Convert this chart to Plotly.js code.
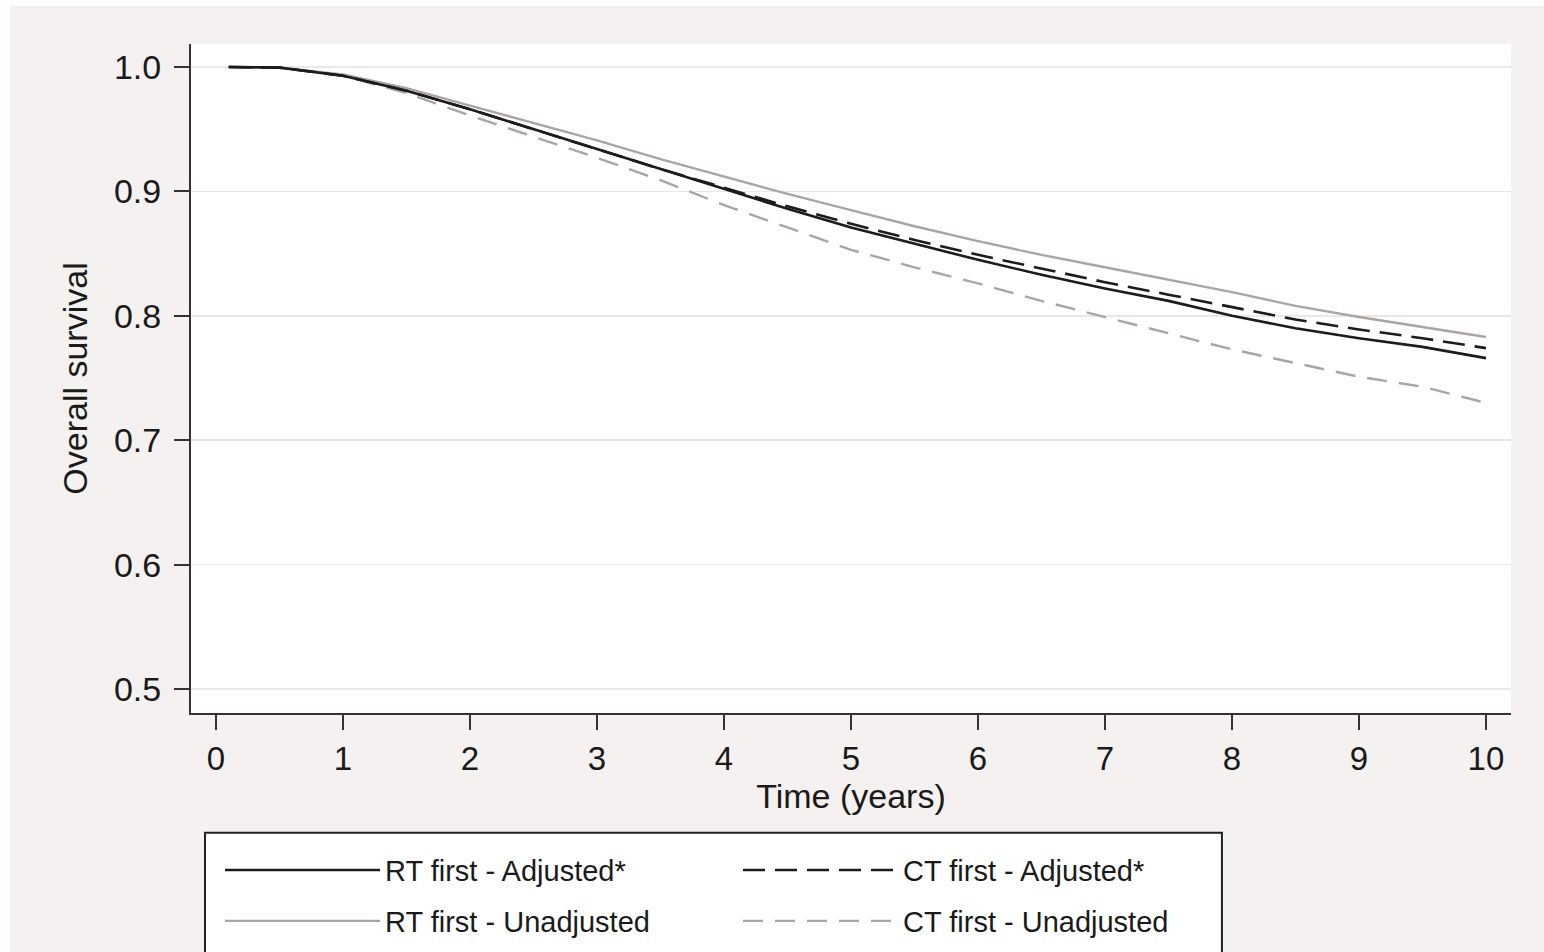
<!DOCTYPE html>
<html>
<head>
<meta charset="utf-8">
<script src="https://cdn.plot.ly/plotly-3.0.1.min.js"></script>
<style>
  html, body { margin: 0; padding: 0; background: #ffffff; }
  #chart { position: absolute; left: 10px; top: 6px; width: 1534px; height: 946px; }
</style>
</head>
<body>
<div id="chart"></div>
<script>
// Time in years
const timeYears = [0.1, 0.5, 1, 1.5, 2, 2.5, 3, 3.5, 4, 4.5, 5, 5.5, 6, 6.5, 7, 7.5, 8, 8.5, 9, 9.5, 10];

// Overall survival estimates
const rtAdjusted   = [1.0, 0.9995, 0.993, 0.981, 0.966, 0.950, 0.934, 0.918, 0.902, 0.886, 0.871, 0.858, 0.845, 0.833, 0.822, 0.812, 0.800, 0.790, 0.782, 0.775, 0.766];
const ctAdjusted   = [1.0, 0.9995, 0.993, 0.981, 0.966, 0.950, 0.934, 0.918, 0.903, 0.888, 0.874, 0.861, 0.849, 0.838, 0.827, 0.817, 0.807, 0.797, 0.789, 0.782, 0.774];
const rtUnadjusted = [1.0, 0.9995, 0.994, 0.983, 0.969, 0.955, 0.941, 0.926, 0.912, 0.898, 0.885, 0.872, 0.860, 0.849, 0.839, 0.829, 0.819, 0.808, 0.799, 0.791, 0.783];
const ctUnadjusted = [1.0, 0.9995, 0.993, 0.979, 0.961, 0.944, 0.927, 0.909, 0.889, 0.871, 0.853, 0.839, 0.826, 0.812, 0.799, 0.786, 0.773, 0.762, 0.751, 0.743, 0.730];

const seriesNames = ["RT first - Adjusted*", "CT first - Adjusted*", "RT first - Unadjusted", "CT first - Unadjusted"];
const xTickVals = [0, 1, 2, 3, 4, 5, 6, 7, 8, 9, 10];
const yTickVals = [0.5, 0.6, 0.7, 0.8, 0.9, 1.0];
const yTickText = ["0.5", "0.6", "0.7", "0.8", "0.9", "1.0"];

const BLACK = "#1c1c1c";
const GRAY = "#aaa5a2";
const FONT = "Liberation Sans, Arial, sans-serif";

const traces = [
  {x: timeYears, y: rtUnadjusted, name: seriesNames[2], mode: "lines", line: {color: GRAY, width: 2.4}, legend: "legend2"},
  {x: timeYears, y: ctUnadjusted, name: seriesNames[3], mode: "lines", line: {color: GRAY, width: 2.4, dash: "20px,12px"}, legend: "legend2"},
  {x: timeYears, y: rtAdjusted, name: seriesNames[0], mode: "lines", line: {color: BLACK, width: 2.6}, legend: "legend"},
  {x: timeYears, y: ctAdjusted, name: seriesNames[1], mode: "lines", line: {color: BLACK, width: 2.6, dash: "22px,10px"}, legend: "legend"}
];

const legendCommon = {
  orientation: "h",
  xanchor: "left",
  yanchor: "middle",
  x: 0.022,
  bgcolor: "rgba(0,0,0,0)",
  borderwidth: 0,
  itemwidth: 155,
  entrywidth: 348,
  entrywidthmode: "pixels",
  traceorder: "normal",
  font: {family: FONT, size: 29, color: "#1a1a1a"}
};

const layout = {
  width: 1534,
  height: 946,
  paper_bgcolor: "#f4f1f0",
  plot_bgcolor: "#ffffff",
  margin: {l: 181, r: 33, t: 38, b: 239, autoexpand: false},
  font: {family: FONT, color: "#1a1a1a"},
  showlegend: true,
  legend: Object.assign({}, legendCommon, {y: -0.235}),
  legend2: Object.assign({}, legendCommon, {y: -0.311}),
  xaxis: {
    range: [-0.197, 10.197],
    tickvals: xTickVals,
    ticks: "outside",
    ticklen: 15,
    tickwidth: 2,
    tickcolor: "#333333",
    showline: true,
    linecolor: "#333333",
    linewidth: 2,
    showgrid: false,
    zeroline: false,
    ticklabelstandoff: 0,
    tickfont: {family: FONT, size: 33, color: "#1a1a1a"},
    title: {text: "Time (years)", font: {family: FONT, size: 34, color: "#1a1a1a"}, standoff: 0}
  },
  yaxis: {
    range: [0.4807, 1.0185],
    tickvals: yTickVals,
    ticktext: yTickText,
    ticks: "outside",
    ticklen: 15,
    tickwidth: 2,
    tickcolor: "#333333",
    showline: true,
    linecolor: "#333333",
    linewidth: 2,
    showgrid: true,
    gridcolor: "#ebe7e6",
    gridwidth: 1.5,
    zeroline: false,
    ticklabelstandoff: 6,
    tickfont: {family: FONT, size: 34, color: "#1a1a1a"},
    title: {text: "Overall survival", font: {family: FONT, size: 34, color: "#1a1a1a"}, standoff: 16}
  },
  shapes: [
    {type: "rect", xref: "paper", yref: "paper", x0: 0.0106, x1: 0.781, y0: -0.40, y1: -0.179,
     line: {color: "#222222", width: 2}, fillcolor: "#ffffff", layer: "below"}
  ]
};

Plotly.newPlot("chart", traces, layout, {displayModeBar: false, staticPlot: true});
</script>
</body>
</html>
